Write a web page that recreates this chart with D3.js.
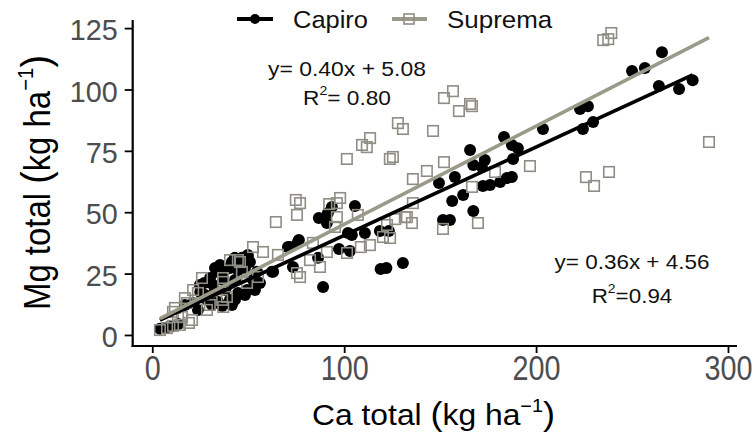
<!DOCTYPE html>
<html>
<head>
<meta charset="utf-8">
<script src="https://cdn.jsdelivr.net/npm/d3@7"></script>
<style>
  body { margin: 0; background: #fff; }
  text { font-family: "Liberation Sans", Arial, Helvetica, sans-serif; }
</style>
</head>
<body>
<svg id="chart" width="755" height="436"></svg>
<script>
// Ca and Mg totals (kg ha-1) per sample, cultivar Capiro
const capiroCa = [265.6, 250.0, 256.7, 264.0, 274.5, 281.6, 222.9, 227.0, 224.4, 229.7,
  203.6, 183.3, 187.4, 190.5, 188.0, 165.6, 167.3, 173.3, 171.8, 157.7,
  149.4, 172.3, 176.0, 181.3, 184.8, 187.4, 162.0, 156.3, 167.3, 151.5,
  155.1, 130.6, 105.6, 93.6, 91.5, 86.8, 91.0, 76.4, 71.8, 104.0,
  110.8, 118.6, 123.3, 97.3, 103.0, 86.4, 73.3, 63.0, 119.0, 122.0,
  89.0, 27.1, 33.8, 37.0, 40.5, 43.1, 45.7, 49.8, 48.3, 21.3,
  28.5, 36.4, 40.5, 44.7, 49.4, 52.5, 54.6, 62.4, 70.7, 75.9,
  102.0, 4.0, 7.5, 10.5, 13.5, 31.7, 38.0, 25.0, 17.0, 32.7,
  43.0, 49.8, 36.4, 41.5, 34.3, 29.0, 24.8, 30.1, 35.3, 37.9,
  41.5, 44.7, 46.7, 50.9, 32.7, 39.4, 27.5, 48.3, 53.5, 56.1,
  43.1, 31.1, 23.8];
const capiroMg = [115.2, 107.5, 108.7, 101.4, 100.2, 103.8, 92.0, 93.2, 83.9, 86.7,
  83.9, 80.6, 77.4, 76.1, 71.7, 75.3, 69.2, 71.3, 68.4, 64.3,
  61.9, 60.7, 61.1, 62.3, 63.9, 64.3, 57.0, 54.6, 50.5, 46.8,
  46.8, 29.3, 52.5, 52.1, 49.7, 47.6, 45.6, 38.7, 35.8, 40.7,
  41.5, 42.3, 42.3, 35.0, 34.2, 31.4, 27.7, 25.7, 26.9, 27.3,
  19.5, 21.2, 25.7, 22.4, 27.3, 22.4, 29.3, 31.4, 27.3, 13.0,
  14.3, 11.8, 14.3, 17.1, 18.3, 22.4, 25.7, 25.7, 35.8, 37.9,
  41.5, 2.5, 3.0, 3.5, 4.5, 20.4, 18.3, 17.5, 12.2, 27.3,
  31.4, 32.6, 25.2, 12.2, 13.4, 15.5, 20.4, 23.2, 28.5, 26.5,
  29.7, 26.5, 31.4, 29.7, 18.3, 20.4, 16.3, 16.3, 18.3, 21.2,
  14.3, 12.2, 10.2];

// Ca and Mg totals (kg ha-1) per sample, cultivar Suprema
const supremaCa = [235.0, 237.6, 239.2, 290.1, 226.0, 230.2, 238.0, 156.7, 152.0, 159.8,
  165.6, 166.6, 146.3, 130.6, 128.0, 152.0, 143.1, 135.8, 196.8, 178.6,
  166.6, 135.8, 131.6, 135.3, 151.5, 169.7, 113.5, 109.3, 111.8, 101.4,
  123.8, 125.4, 74.8, 77.0, 92.2, 97.9, 96.2, 64.4, 96.2, 107.1,
  126.6, 132.7, 122.3, 120.2, 123.9, 113.4, 108.7, 101.5, 91.0, 83.7,
  65.5, 87.4, 75.4, 77.0, 4.0, 7.7, 10.8, 14.4, 19.1, 15.5,
  10.8, 18.1, 23.8, 28.5, 36.4, 38.9, 37.0, 45.7, 46.7, 49.4,
  52.5, 57.7, 55.1, 75.4, 82.2, 95.2, 40.5, 44.6, 21.3, 17.0,
  30.0, 37.0, 11.8, 20.7, 13.4, 25.9, 36.9];
const supremaMg = [120.1, 120.5, 123.0, 78.6, 64.3, 60.7, 66.4, 99.3, 96.5, 91.2,
  94.1, 93.2, 83.1, 83.9, 86.3, 70.4, 66.8, 63.5, 68.8, 66.4,
  60.3, 53.7, 48.0, 45.6, 43.2, 45.6, 80.2, 77.4, 76.5, 71.7,
  71.7, 72.5, 55.0, 53.7, 53.3, 55.8, 53.7, 46.0, 48.0, 48.9,
  47.2, 48.0, 44.8, 39.9, 39.5, 36.6, 35.8, 33.4, 33.8, 37.5,
  32.6, 27.7, 25.2, 23.6, 2.0, 2.8, 3.7, 4.1, 4.9, 7.3,
  9.4, 13.0, 17.1, 10.2, 14.3, 15.5, 21.6, 29.7, 25.7, 21.2,
  35.8, 33.8, 23.6, 48.9, 30.5, 44.0, 30.5, 30.5, 18.3, 15.0,
  12.2, 11.4, 11.0, 6.1, 7.3, 23.2, 23.2];

// Linear fits: Mg = slope * Ca + intercept
const cultivars = ["Capiro", "Suprema"];
const fitSlopes = [0.36, 0.40];
const fitIntercepts = [4.56, 5.08];
const fitR2 = ["0.94", "0.80"];

const xTicks = [0, 100, 200, 300];
const yTicks = [0, 25, 50, 75, 100, 125];

const svg = d3.select("#chart");
const colBlack = "#000000";
const colLine = "#9a9a8a";
const colSquare = "#8e8e84";
const colTick = "#4d4d4d";

const x = d3.scaleLinear().domain([-10.2, 304.7]).range([132.7, 737]);
const y = d3.scaleLinear().domain([-4.5, 128.3]).range([346, 20]);

// Scale a text element about its anchor so it spans `w` pixels (optional vertical factor)
function fitWidth(node, px, py, w, sy = 1) {
  const bb = node.getBBox();
  const s = w / bb.width;
  d3.select(node).attr("transform", `translate(${px},${py}) scale(${s},${sy})`);
}

// Axes
const xAxis = svg.append("g")
  .attr("transform", `translate(0,${y.range()[0]})`)
  .call(d3.axisBottom(x).tickValues(xTicks).tickSize(7).tickSizeOuter(0).tickPadding(4));
const yAxis = svg.append("g")
  .attr("transform", `translate(${x.range()[0]},0)`)
  .call(d3.axisLeft(y).tickValues(yTicks).tickSize(8).tickSizeOuter(0).tickPadding(5));

[xAxis, yAxis].forEach(g => {
  g.select(".domain").attr("stroke", colBlack).attr("stroke-width", 2.2);
  g.selectAll(".tick line").attr("stroke", colBlack).attr("stroke-width", 1.8);
  g.selectAll(".tick text").attr("fill", colTick).style("font-family", "'Liberation Sans', Arial, sans-serif");
});
// extend the domain lines so they meet at the corner
xAxis.select(".domain").attr("d", `M${x.range()[0] - 1.1},0H${x.range()[1]}`);
yAxis.select(".domain").attr("d", `M0,${y.range()[1]}V${y.range()[0] + 1.1}`);

xAxis.selectAll(".tick text")
  .attr("font-size", 30)
  .attr("dy", "0.74em")
  .each(function () {
    d3.select(this).attr("y", 0);
    fitWidth(this, 0, 8, 16 * this.textContent.length, 1.15);
  });
yAxis.selectAll(".tick text")
  .attr("font-size", 28)
  .attr("dy", "0.36em")
  .attr("text-anchor", "end")
  .each(function () {
    d3.select(this).attr("x", 0);
    fitWidth(this, -15, 1, 16 * this.textContent.length, 1.05);
  });

// Points
const capiro = capiroCa.map((v, i) => ({ ca: v, mg: capiroMg[i] }));
const suprema = supremaCa.map((v, i) => ({ ca: v, mg: supremaMg[i] }));

svg.append("g").selectAll("circle").data(capiro).join("circle")
  .attr("cx", d => x(d.ca)).attr("cy", d => y(d.mg)).attr("r", 6)
  .attr("fill", colBlack);

const sq = 10.5;
svg.append("g").selectAll("rect").data(suprema).join("rect")
  .attr("x", d => x(d.ca) - sq / 2).attr("y", d => y(d.mg) - sq / 2)
  .attr("width", sq).attr("height", sq)
  .attr("fill", "none").attr("stroke", colSquare).attr("stroke-width", 1.6);

// Regression lines over each cultivar's Ca range
const line = d3.line().x(d => x(d[0])).y(d => y(d[1]));
[[capiroCa, 0, colBlack], [supremaCa, 1, colLine]].forEach(([cas, k, col]) => {
  const [lo, hi] = d3.extent(cas);
  const pts = [lo, hi].map(v => [v, fitSlopes[k] * v + fitIntercepts[k]]);
  svg.append("path").attr("d", line(pts)).attr("fill", "none")
    .attr("stroke", col).attr("stroke-width", 3.6);
});

// Equation labels
function equation(k, cx, by1, by2, w1, w2, eqSep) {
  const t1 = svg.append("text").attr("font-size", 21).attr("text-anchor", "middle").attr("fill", "#111")
    .text(`y= ${fitSlopes[k].toFixed(2)}x + ${fitIntercepts[k].toFixed(2)}`);
  fitWidth(t1.node(), cx, by1, w1);
  const t2 = svg.append("text").attr("font-size", 21).attr("text-anchor", "middle").attr("fill", "#111");
  t2.append("tspan").text("R");
  t2.append("tspan").attr("font-size", 13).attr("dy", "-0.75em").text("2");
  t2.append("tspan").attr("dy", "0.47em").text(eqSep + fitR2[k]);
  fitWidth(t2.node(), cx, by2, w2);
}
equation(1, 347, 76, 105, 158, 88, "= ");
equation(0, 632, 269, 303, 155, 81, "=");

// Legend
const legY = 19;
const lg = svg.append("g");
lg.append("line").attr("x1", 237).attr("x2", 273).attr("y1", legY).attr("y2", legY)
  .attr("stroke", colBlack).attr("stroke-width", 4);
lg.append("circle").attr("cx", 255).attr("cy", legY).attr("r", 5).attr("fill", colBlack);
lg.append("line").attr("x1", 392).attr("x2", 427).attr("y1", legY).attr("y2", legY)
  .attr("stroke", colLine).attr("stroke-width", 4);
lg.append("rect").attr("x", 409 - 5).attr("y", legY - 5).attr("width", 10).attr("height", 10)
  .attr("fill", "none").attr("stroke", colSquare).attr("stroke-width", 1.6);
const l1 = lg.append("text").attr("font-size", 24).attr("fill", "#111").text(cultivars[0]);
fitWidth(l1.node(), 293, 28, 75);
const l2 = lg.append("text").attr("font-size", 24).attr("fill", "#111").text(cultivars[1]);
fitWidth(l2.node(), 447, 28, 106);

// Axis titles
function unitTitle(g, label) {
  const t = g.append("text").attr("font-size", 29).attr("fill", "#000");
  t.append("tspan").text(label + " ");
  t.append("tspan").attr("font-size", 33).text("(");
  t.append("tspan").text("kg ha");
  t.append("tspan").attr("font-size", 18).attr("dy", "-0.75em").text("\u22121");
  t.append("tspan").attr("font-size", 33).attr("dy", "0.42em").text(")");
  return t;
}
const xt = unitTitle(svg, "Ca total");
fitWidth(xt.node(), 312, 425, 243);

const ytG = svg.append("g").attr("transform", "translate(50,310) rotate(-90)");
const yt = unitTitle(ytG, "Mg total");
fitWidth(yt.node(), 0, 0, 255, 1.25);
</script>
</body>
</html>
